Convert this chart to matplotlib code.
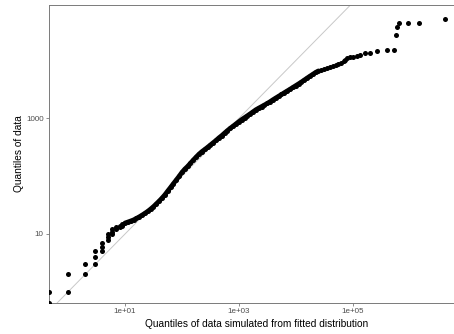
import numpy as np
import matplotlib as mpl
mpl.use('Agg')
import matplotlib.pyplot as plt

plt.rcParams['font.family'] = ['Liberation Sans', 'DejaVu Sans']

# low end: both quantiles are small integers (0 is drawn at the panel edge, as ggplot does with -Inf)
sim_low = [0, 0, 1, 1, 2, 2, 3, 3, 3, 4, 4, 4, 5, 5, 5, 6, 6, 6, 7, 7, 8, 8, 9, 9]
data_low = [0, 1, 1, 2, 2, 3, 3, 4, 5, 5, 6, 7, 8, 9, 10, 10, 11, 12, 12, 13, 13, 14, 14, 15]

# main body of the QQ curve
sim_q = [10, 11.22, 12.59, 14.13, 15.85, 17.78, 19.95, 22.39, 25.12, 28.18,
         31.62, 35.48, 39.81, 44.67, 50.12, 56.23, 63.10, 70.79, 79.43, 89.13,
         100, 112.2, 125.9, 141.3, 158.5, 177.8, 199.5, 223.9, 251.2, 281.8,
         316.2, 354.8, 398.1, 446.7, 501.2, 562.3, 631.0, 707.9, 794.3, 891.3,
         1000, 1122, 1259, 1413, 1585, 1778, 1995, 2239, 2512, 2818,
         3162, 3548, 3981, 4467, 5012, 5623, 6310, 7079, 7943, 8913,
         10000, 11220, 12590, 14130, 15850, 17780, 19950, 22390, 25120, 28180,
         31620, 35480, 39810, 44670, 50120, 56230, 63100, 69180, 74130, 79430,
         89130, 102300, 117500, 134900, 166000, 199500, 263000]
data_q = [15.49, 16.11, 16.79, 17.54, 18.62, 19.82, 21.23, 22.86, 24.72, 27.04,
          29.79, 33.27, 37.15, 41.88, 47.64, 55.34, 63.97, 74.30, 85.90, 99.54,
          116.4, 132.7, 147.9, 167.9, 190.5, 214.8, 241.0, 266.1, 289.7, 316.2,
          346.7, 380.2, 416.9, 461.3, 504.7, 558.5, 616.6, 676.1, 736.2, 803.5,
          877.0, 955.0, 1030, 1112, 1202, 1303, 1413, 1507, 1603, 1706,
          1820, 1950, 2104, 2259, 2421, 2594, 2786, 2985, 3199, 3436,
          3690, 3963, 4266, 4613, 4989, 5383, 5794, 6252, 6637, 6998,
          7278, 7551, 7816, 8072, 8318, 8630, 9162, 9661, 10230, 10960,
          11350, 11670, 12020, 12500, 13370, 13800, 14660]

# sparse upper tail
sim_tail = [397000, 534600, 579400, 595700, 641200, 941900, 1469000, 4169000]
data_tail = [14960, 14960, 27730, 38900, 44160, 44160, 45290, 51880]

x_ticks = [10, 1000, 100000]
x_labels = ['1e+01', '1e+03', '1e+05']
y_ticks = [10, 1000]
y_labels = ['10', '1000']

xlim = (10 ** -0.336, 10 ** 6.975)
ylim = (10 ** -0.194, 10 ** 4.962)

sim_all = np.array(sim_low + sim_q + sim_tail, dtype=float)
data_all = np.array(data_low + data_q + data_tail, dtype=float)
# zeros can't go on a log axis -> pin them to the lower edge
sim_plot = np.where(sim_all > 0, sim_all, xlim[0])
data_plot = np.where(data_all > 0, data_all, ylim[0])

fig = plt.figure(figsize=(4.54, 3.34), dpi=100)
ax = fig.add_axes([49 / 454, 1 - 303 / 334, (465 - 49) / 454, 298 / 334])
ax.set_xscale('log')
ax.set_yscale('log')
ax.set_xlim(xlim)
ax.set_ylim(ylim)

ax.plot(xlim, xlim, color='#c8c8c8', lw=0.7, zorder=1)
# thousands of overlapping points in the body look like a solid band
n_dense = sim_q.index(25120) + 1
ax.plot(sim_q[:n_dense], data_q[:n_dense], color='black', lw=3.4,
        solid_capstyle='round', solid_joinstyle='round', zorder=2)
ax.scatter(sim_plot, data_plot, s=13, color='black', linewidths=0, zorder=3)

ax.xaxis.set_major_locator(mpl.ticker.FixedLocator(x_ticks))
ax.xaxis.set_major_formatter(mpl.ticker.FixedFormatter(x_labels))
ax.yaxis.set_major_locator(mpl.ticker.FixedLocator(y_ticks))
ax.yaxis.set_major_formatter(mpl.ticker.FixedFormatter(y_labels))
ax.xaxis.set_minor_locator(mpl.ticker.NullLocator())
ax.yaxis.set_minor_locator(mpl.ticker.NullLocator())
ax.tick_params(length=2.2, width=0.6, color='#7a7a7a', labelcolor='#4d4d4d',
               labelsize=5.8, pad=1.6)
for sp in ax.spines.values():
    sp.set_color('#7a7a7a')
    sp.set_linewidth(0.7)

ax.set_xlabel('Quantiles of data simulated from fitted distribution', fontsize=7.3, labelpad=2.5)
ax.set_ylabel('Quantiles of data', fontsize=7.3, labelpad=1.5)

plt.savefig('out.png', dpi=100)
